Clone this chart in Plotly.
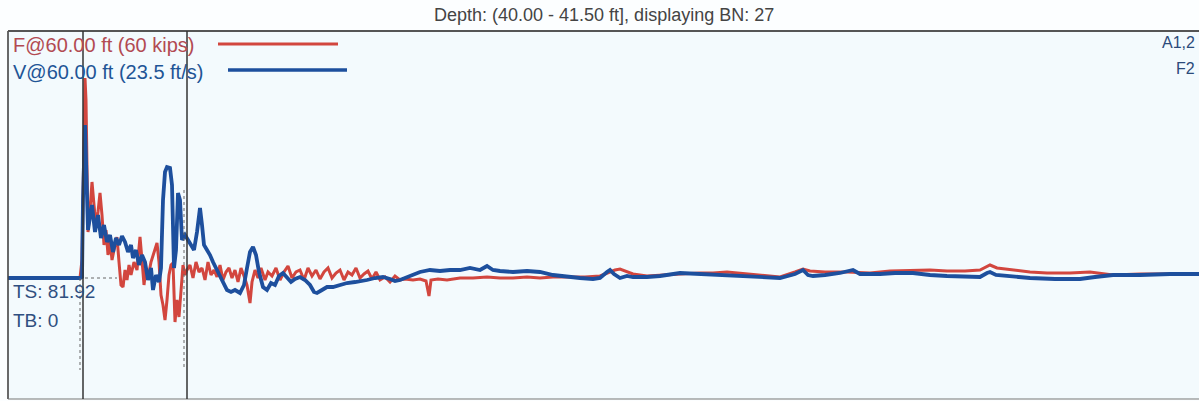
import plotly.graph_objects as go

# Time base (ms) and signals for the displayed blow
t_force = [0, 7.2, 7.4, 7.6, 7.7, 7.8, 7.9, 8.0, 8.2, 8.4, 8.6, 8.8, 9.0, 9.2, 9.4, 9.6, 9.8, 10.0,
           10.2, 10.4, 10.6, 10.9, 11.1, 11.3, 11.5, 11.7, 11.9, 12.1, 12.3, 12.6, 12.9, 13.2, 13.4,
           13.6, 13.8, 14.0, 14.3, 14.6, 14.9, 15.1, 15.3, 15.5, 15.7, 15.9, 16.1, 16.3, 16.5, 16.7,
           16.9, 17.1, 17.3, 17.5, 17.7, 17.9, 18.2, 18.5, 18.8, 19.1, 19.4, 19.7, 20.0, 20.3, 20.6,
           20.9, 21.2, 21.5, 21.8, 22.1, 22.4, 22.7, 23.0, 23.3, 23.6, 23.9, 24.2, 24.4, 24.7, 25.0,
           25.3, 25.7, 26.0, 26.4, 26.8, 27.2, 27.6, 28.0, 28.4, 28.8, 29.2, 29.6, 30.0, 30.4, 30.8,
           31.2, 31.6, 32.0, 32.4, 32.8, 33.2, 33.6, 34.0, 34.4, 34.8, 35.2, 35.6, 36.0, 36.4, 36.8,
           37.2, 37.7, 38.2, 38.7, 39.2, 39.7, 40.5, 41.2, 41.8, 42.1, 42.3, 43.0, 43.9, 45.2, 46.5,
           47.9, 49.2, 50.5, 51.9, 53.2, 54.5, 56.2, 57.7, 59.2, 60.2, 60.7, 61.2, 61.7, 62.5, 63.9,
           65.2, 67.2, 69.2, 70.5, 71.9, 73.9, 75.7, 77.2, 78.7, 79.5, 80.2, 81.7, 83.9, 86.2, 88.2,
           90.5, 92.2, 93.9, 95.7, 97.2, 98.2, 98.9, 100.5, 102.2, 103.9, 106.2, 108.2, 110.5, 113.2,
           116.2, 119.1]
force = [-1, -1, 17, 157, 199, 177, 87, 45, 67, 95, 72, 52, 65, 84, 62, 32, 47, 22,
         37, 17, 27, 40, 15, -8, -10, 7, -3, 12, 2, 15, 7, 40, 17,
         -8, 9, -1, 15, 25, 34, 15, -18, -28, -43, -23, 2, 12, 14, -45,
         -23, -40, -8, 12, 2, 7, 12, -1, 15, 5, 9, -3, 15, 2, 7,
         0, 12, -3, 5, 9, -1, 7, -5, 9, 1, -8, -26, -5, 7, -1,
         9, -3, 5, 1, 9, -3, 5, 11, -1, 5, 7, -3, 9, 1, 7,
         -2, 5, 9, -1, 4, 7, -3, 5, 2, 9, -1, 3, 6, -2, 5,
         -3, 0, -5, 1, -3, -2, -3, -2, -4, -19, -3, -2, -3, -1, -1,
         0, -1, -1, 0, -1, 0, 0, 0, 1, 5, 7, 8, 6, 3, 1,
         2, 3, 4, 4, 5, 3, 1, 0, 5, 8, 6, 5, 5, 4, 6,
         7, 7, 6, 6, 7, 12, 9, 7, 5, 4, 4, 5, 2, 3,
         3, 3]

t_velocity = [0, 7.2, 7.4, 7.5, 7.7, 7.9, 8.0, 8.2, 8.4, 8.7, 9.0, 9.3, 9.6, 9.9, 10.2, 10.5, 10.8,
              11.1, 11.4, 11.7, 12.0, 12.3, 12.5, 12.8, 13.1, 13.4, 13.7, 14.0, 14.3, 14.5, 14.8,
              15.1, 15.3, 15.5, 15.7, 15.9, 16.2, 16.4, 16.6, 16.8, 17.0, 17.2, 17.4, 17.7, 18.0,
              18.3, 18.6, 18.9, 19.2, 19.4, 19.6, 19.9, 20.2, 20.5, 20.9, 21.2, 21.6, 21.9, 22.3,
              22.7, 23.2, 23.6, 23.9, 24.2, 24.5, 24.8, 25.1, 25.5, 25.9, 26.3, 26.7, 27.1, 27.5,
              27.9, 28.3, 28.7, 29.2, 29.7, 30.2, 30.6, 30.9, 31.4, 31.9, 32.5, 33.2, 33.9, 34.7,
              35.4, 35.9, 36.7, 37.5, 38.2, 38.7, 39.2, 40.2, 41.2, 42.2, 43.2, 44.2, 45.2, 46.2,
              47.2, 47.9, 48.5, 49.2, 50.5, 51.9, 53.2, 54.5, 55.9, 57.2, 58.5, 59.2, 59.9, 60.2,
              60.6, 61.2, 61.9, 62.5, 63.9, 65.2, 67.2, 69.2, 70.5, 72.2, 73.9, 75.7, 77.2, 78.7,
              79.5, 80.0, 80.5, 81.7, 83.2, 84.5, 85.2, 87.2, 88.7, 90.5, 92.2, 93.9, 95.7, 97.2,
              97.9, 98.2, 98.8, 99.9, 101.2, 102.2, 104.7, 107.2, 108.7, 110.5, 113.2, 116.2, 119.1]
velocity = [-1, -1, 0, 77, 152, 77, 47, 60, 72, 45, 62, 39, 52, 35, 42, 25, 39,
            32, 41, 35, 25, 32, 19, 27, 12, 22, 15, -3, 9, -13, 2,
            -5, 9, 77, 105, 110, 109, 92, 9, 27, 84, 77, 37, 42, 37,
            32, 27, 45, 69, 52, 32, 27, 22, 15, 7, 2, -5, -13, -15,
            -13, -16, -8, 9, 25, 30, 22, 5, -10, -13, -6, -8, 1, 4,
            -1, -5, -2, 0, -3, -8, -15, -16, -13, -10, -10, -8, -6, -5,
            -4, -3, -1, 0, -2, -4, -3, 1, 5, 7, 6, 7, 7, 9,
            7, 11, 7, 6, 5, 6, 5, 2, 0, -1, -2, -1, 5, 7,
            3, -1, 1, 0, 0, 1, 4, 3, 2, 1, 1, 0, -1, 3,
            7, 2, 1, 2, 4, 7, 3, 3, 4, 4, 2, 1, 0, 0,
            4, 5, 2, 1, 0, -1, -2, -2, 0, 2, 2, 3, 3]

marker_times = [7.5, 17.9]
title_text = "Depth: (40.00 - 41.50 ft], displaying BN: 27"
force_label = "F@60.00 ft (60 kips)"
velocity_label = "V@60.00 ft (23.5 ft/s)"
channel_labels = ["A1,2", "F2"]
info_labels = ["TS: 81.92", "TB: 0"]

RED = "#d2463e"
BLUE = "#1d4f9d"
FONT = "Liberation Sans, Arial, sans-serif"

fig = go.Figure()
fig.add_trace(go.Scatter(x=t_force, y=force, mode="lines",
                         line=dict(color=RED, width=3), hoverinfo="skip"))
fig.add_trace(go.Scatter(x=t_velocity, y=velocity, mode="lines",
                         line=dict(color=BLUE, width=3.8), hoverinfo="skip"))

shapes = []
# frame: left, top and bottom edges
shapes.append(dict(type="line", xref="paper", yref="paper", x0=0, x1=0, y0=0, y1=1,
                   line=dict(color="#444", width=1.6)))
shapes.append(dict(type="line", xref="paper", yref="paper", x0=0, x1=1, y0=1, y1=1,
                   line=dict(color="#555", width=2)))
shapes.append(dict(type="line", xref="paper", yref="paper", x0=0, x1=1, y0=0, y1=0,
                   line=dict(color="#777", width=1.2)))
# time markers
for mt in marker_times:
    shapes.append(dict(type="line", xref="x", yref="paper", x0=mt, x1=mt, y0=0, y1=1,
                       line=dict(color="#333", width=1.5)))
# dotted guides beside the markers
shapes.append(dict(type="line", xref="x", yref="y", x0=marker_times[0] - 0.3, x1=marker_times[0] - 0.3,
                   y0=-1, y1=-93, line=dict(color="#666", width=1, dash="dot")))
shapes.append(dict(type="line", xref="x", yref="y", x0=marker_times[1] - 0.3, x1=marker_times[1] - 0.3,
                   y0=87, y1=-93, line=dict(color="#666", width=1, dash="dot")))
shapes.append(dict(type="line", xref="x", yref="y", x0=marker_times[0] + 0.2, x1=10.9,
                   y0=-1, y1=-1, line=dict(color="#666", width=1, dash="dot")))
# legend line samples
shapes.append(dict(type="line", xref="x", yref="y", x0=21.0, x1=33.0, y0=233, y1=233,
                   line=dict(color=RED, width=3)))
shapes.append(dict(type="line", xref="x", yref="y", x0=22.0, x1=33.9, y0=207, y1=207,
                   line=dict(color=BLUE, width=3.5)))

annotations = [
    dict(text=force_label, xref="paper", yref="y", x=0.0025, y=232, xanchor="left", yanchor="middle",
         showarrow=False, font=dict(family=FONT, size=20, color="#b24a52")),
    dict(text=velocity_label, xref="paper", yref="y", x=0.0025, y=205, xanchor="left", yanchor="middle",
         showarrow=False, font=dict(family=FONT, size=20, color="#1f5596")),
    dict(text=channel_labels[0], xref="paper", yref="y", x=0.998, y=235, xanchor="right", yanchor="middle",
         showarrow=False, font=dict(family=FONT, size=16, color="#2b4a7a")),
    dict(text=channel_labels[1], xref="paper", yref="y", x=0.998, y=209, xanchor="right", yanchor="middle",
         showarrow=False, font=dict(family=FONT, size=16, color="#2b4a7a")),
    dict(text=info_labels[0], xref="paper", yref="y", x=0.0025, y=-14, xanchor="left", yanchor="middle",
         showarrow=False, font=dict(family=FONT, size=19, color="#2f4f80")),
    dict(text=info_labels[1], xref="paper", yref="y", x=0.0025, y=-43, xanchor="left", yanchor="middle",
         showarrow=False, font=dict(family=FONT, size=19, color="#2f4f80")),
    dict(text=title_text, xref="paper", yref="paper", x=0.5, y=1, yshift=16, xanchor="center",
         yanchor="middle", showarrow=False, font=dict(family=FONT, size=18, color="#444")),
]

fig.update_layout(
    width=1199, height=401,
    margin=dict(l=8, r=0, t=31, b=2),
    paper_bgcolor="#fcfeff",
    plot_bgcolor="#f3fafd",
    showlegend=False,
    shapes=shapes,
    annotations=annotations,
    xaxis=dict(range=[0, 119.1], visible=False, fixedrange=True),
    yaxis=dict(range=[-122, 246], visible=False, fixedrange=True),
)

fig.write_html("out.html")
